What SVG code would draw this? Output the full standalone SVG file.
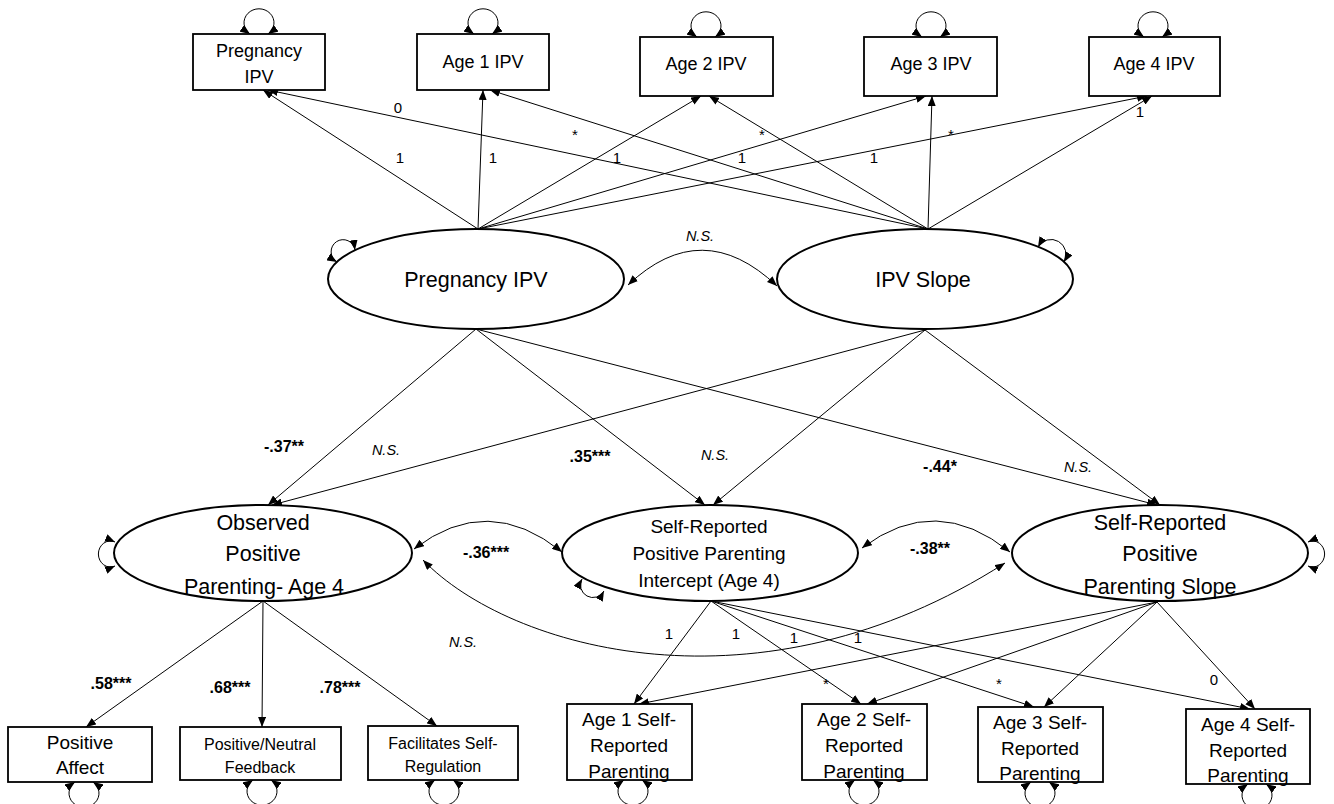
<svg xmlns="http://www.w3.org/2000/svg" width="1334" height="804" viewBox="0 0 1334 804">
<defs>
<marker id="ah" viewBox="0 0 10 8" refX="10" refY="4" markerWidth="10" markerHeight="8" markerUnits="userSpaceOnUse" orient="auto-start-reverse"><path d="M0,0 L10,4 L0,8 z" fill="#000"/></marker>
<style>
.box{fill:#fff;stroke:#000;stroke-width:1.8}
.ell{fill:#fff;stroke:#000;stroke-width:2}
.ln{fill:none;stroke:#000;stroke-width:1;marker-end:url(#ah)}
.dbl{fill:none;stroke:#000;stroke-width:1;marker-start:url(#ah);marker-end:url(#ah)}
text{font-family:"Liberation Sans",Arial,sans-serif;fill:#000;text-anchor:middle}
.t18{font-size:18px}
.t22{font-size:21.5px}
.t19{font-size:19px}
.t16{font-size:16px}
.lbl{font-size:15px}
.b{font-size:16px;font-weight:bold}
.i{font-size:14.5px;font-style:italic}
</style>
</defs>
<rect width="1334" height="804" fill="#fff"/>

<g id="connectors">
<line class="ln" x1="478" y1="229" x2="263" y2="90"/>
<line class="ln" x1="478" y1="229" x2="483" y2="90"/>
<line class="ln" x1="478" y1="229" x2="701" y2="96"/>
<line class="ln" x1="478" y1="229" x2="926" y2="96"/>
<line class="ln" x1="478" y1="229" x2="1147" y2="96"/>
<line class="ln" x1="928" y1="229" x2="268" y2="90"/>
<line class="ln" x1="928" y1="229" x2="490" y2="90"/>
<line class="ln" x1="928" y1="229" x2="709" y2="96"/>
<line class="ln" x1="928" y1="229" x2="932" y2="96"/>
<line class="ln" x1="928" y1="229" x2="1152" y2="96"/>
<path class="dbl" d="M628,285 Q702,215 777,286"/>
<line class="ln" x1="476" y1="329" x2="268" y2="505"/>
<line class="ln" x1="925" y1="330" x2="272" y2="505"/>
<line class="ln" x1="476" y1="329" x2="705" y2="505"/>
<line class="ln" x1="925" y1="330" x2="713" y2="505"/>
<line class="ln" x1="476" y1="329" x2="1157" y2="505"/>
<line class="ln" x1="925" y1="330" x2="1160" y2="505"/>
<path class="dbl" d="M414,549 Q488,492 562,552"/>
<path class="dbl" d="M862,548 Q936,492 1010,552"/>
<path class="dbl" d="M423,560 C510,650 760,720 1005,563"/>
<line class="ln" x1="263" y1="601" x2="86" y2="727"/>
<line class="ln" x1="263" y1="601" x2="262" y2="727"/>
<line class="ln" x1="263" y1="601" x2="437" y2="726"/>
<line class="ln" x1="711" y1="601" x2="634" y2="704"/>
<line class="ln" x1="711" y1="601" x2="861" y2="704"/>
<line class="ln" x1="711" y1="601" x2="1034" y2="707"/>
<line class="ln" x1="711" y1="601" x2="1250" y2="709"/>
<line class="ln" x1="1157" y1="602" x2="639" y2="704"/>
<line class="ln" x1="1157" y1="602" x2="867" y2="704"/>
<line class="ln" x1="1157" y1="602" x2="1044" y2="707"/>
<line class="ln" x1="1157" y1="602" x2="1255" y2="709"/>
<path class="dbl" d="M250,34 A15 14 0 1 1 268,34"/>
<path class="dbl" d="M474,34 A15 14 0 1 1 492,34"/>
<path class="dbl" d="M697,37 A15 14 0 1 1 715,37"/>
<path class="dbl" d="M922,37 A15 14 0 1 1 940,37"/>
<path class="dbl" d="M1144,37 A15 14 0 1 1 1162,37"/>
<path class="dbl" d="M337,262 A12 12 0 1 1 355,250"/>
<path class="dbl" d="M1038,247 A12 12 0 1 1 1064,262"/>
<path class="dbl" d="M115,542 A12 13 0 1 0 115,566"/>
<path class="dbl" d="M582,579 A12 12 0 1 0 604,591"/>
<path class="dbl" d="M1308,542 A12 13 0 1 1 1308,566"/>
<path class="dbl" d="M75,782 A15 14 0 1 0 93,782"/>
<path class="dbl" d="M253,780 A15 14 0 1 0 271,780"/>
<path class="dbl" d="M435,780 A15 14 0 1 0 453,780"/>
<path class="dbl" d="M624,780 A15 14 0 1 0 642,780"/>
<path class="dbl" d="M855,780 A15 14 0 1 0 873,780"/>
<path class="dbl" d="M1031,782 A15 14 0 1 0 1049,782"/>
<path class="dbl" d="M1248,784 A15 14 0 1 0 1266,784"/>
</g>

<g id="labels">
<text class="lbl" x="398" y="113">0</text>
<text class="lbl" x="400" y="163">1</text>
<text class="lbl" x="493" y="163">1</text>
<text class="lbl" x="617" y="163">1</text>
<text class="lbl" x="742" y="163">1</text>
<text class="lbl" x="874" y="163">1</text>
<text class="lbl" x="1140" y="117">1</text>
<text class="lbl" x="575" y="140">*</text>
<text class="lbl" x="762" y="140">*</text>
<text class="lbl" x="951" y="140">*</text>
<text class="i" x="700" y="241">N.S.</text>
<text class="b" x="284" y="452">-.37**</text>
<text class="i" x="386" y="455">N.S.</text>
<text class="b" x="590" y="462">.35***</text>
<text class="i" x="715" y="460">N.S.</text>
<text class="b" x="940" y="472">-.44*</text>
<text class="i" x="1078" y="472">N.S.</text>
<text class="b" x="486" y="558">-.36***</text>
<text class="b" x="930" y="554">-.38**</text>
<text class="i" x="463" y="647">N.S.</text>
<text class="b" x="111" y="689">.58***</text>
<text class="b" x="230" y="693">.68***</text>
<text class="b" x="340" y="693">.78***</text>
<text class="lbl" x="669" y="639">1</text>
<text class="lbl" x="736" y="639">1</text>
<text class="lbl" x="794" y="643">1</text>
<text class="lbl" x="858" y="643">1</text>
<text class="lbl" x="679" y="718">1</text>
<text class="lbl" x="826" y="689">*</text>
<text class="lbl" x="999" y="689">*</text>
<text class="lbl" x="1214" y="685">0</text>
</g>

<g id="n-preg-box"><rect class="box" x="193" y="34" width="132" height="56"/><text class="t18" x="259" y="57">Pregnancy</text><text class="t18" x="259" y="83">IPV</text></g>
<g id="n-age1-ipv"><rect class="box" x="417" y="34" width="132" height="56"/><text class="t18" x="483" y="68">Age 1 IPV</text></g>
<g id="n-age2-ipv"><rect class="box" x="640" y="37" width="133" height="59"/><text class="t18" x="706" y="70">Age 2 IPV</text></g>
<g id="n-age3-ipv"><rect class="box" x="864" y="37" width="133" height="59"/><text class="t18" x="931" y="70">Age 3 IPV</text></g>
<g id="n-age4-ipv"><rect class="box" x="1089" y="37" width="131" height="59"/><text class="t18" x="1154" y="70">Age 4 IPV</text></g>

<g id="n-preg-ipv"><ellipse class="ell" cx="476" cy="279" rx="148" ry="50"/><text class="t22" x="476" y="287">Pregnancy IPV</text></g>
<g id="n-ipv-slope"><ellipse class="ell" cx="925" cy="279" rx="148" ry="50"/><text class="t22" x="923" y="287">IPV Slope</text></g>

<g id="n-observed"><ellipse class="ell" cx="263" cy="553" rx="149" ry="48"/><text class="t22" x="263" y="530">Observed</text><text class="t22" x="263" y="561">Positive</text><text class="t22" x="264" y="594">Parenting- Age 4</text></g>
<g id="n-sr-intercept"><ellipse class="ell" cx="710" cy="553" rx="148" ry="48"/><text class="t19" x="709" y="533">Self-Reported</text><text class="t19" x="709" y="560">Positive Parenting</text><text class="t19" x="709" y="587">Intercept (Age 4)</text></g>
<g id="n-sr-slope"><ellipse class="ell" cx="1160" cy="553" rx="148" ry="48"/><text class="t22" x="1160" y="530">Self-Reported</text><text class="t22" x="1160" y="561">Positive</text><text class="t22" x="1160" y="594">Parenting Slope</text></g>

<g id="n-pos-affect"><rect class="box" x="8" y="727" width="144" height="55"/><text class="t19" x="80" y="749">Positive</text><text class="t19" x="80" y="774">Affect</text></g>
<g id="n-feedback"><rect class="box" x="180" y="727" width="161" height="53"/><text class="t16" x="260" y="750">Positive/Neutral</text><text class="t16" x="260" y="773">Feedback</text></g>
<g id="n-fsr"><rect class="box" x="368" y="726" width="150" height="54"/><text class="t16" x="443" y="749">Facilitates Self-</text><text class="t16" x="443" y="772">Regulation</text></g>

<g id="n-age1-sr"><rect class="box" x="567" y="704" width="125" height="76"/><text class="t19" x="629" y="726">Age 1 Self-</text><text class="t19" x="629" y="752">Reported</text><text class="t19" x="629" y="778">Parenting</text></g>
<g id="n-age2-sr"><rect class="box" x="802" y="704" width="125" height="76"/><text class="t19" x="864" y="726">Age 2 Self-</text><text class="t19" x="864" y="752">Reported</text><text class="t19" x="864" y="778">Parenting</text></g>
<g id="n-age3-sr"><rect class="box" x="978" y="707" width="125" height="75"/><text class="t19" x="1040" y="729">Age 3 Self-</text><text class="t19" x="1040" y="755">Reported</text><text class="t19" x="1040" y="780">Parenting</text></g>
<g id="n-age4-sr"><rect class="box" x="1186" y="709" width="124" height="75"/><text class="t19" x="1248" y="731">Age 4 Self-</text><text class="t19" x="1248" y="757">Reported</text><text class="t19" x="1248" y="782">Parenting</text></g>
</svg>
